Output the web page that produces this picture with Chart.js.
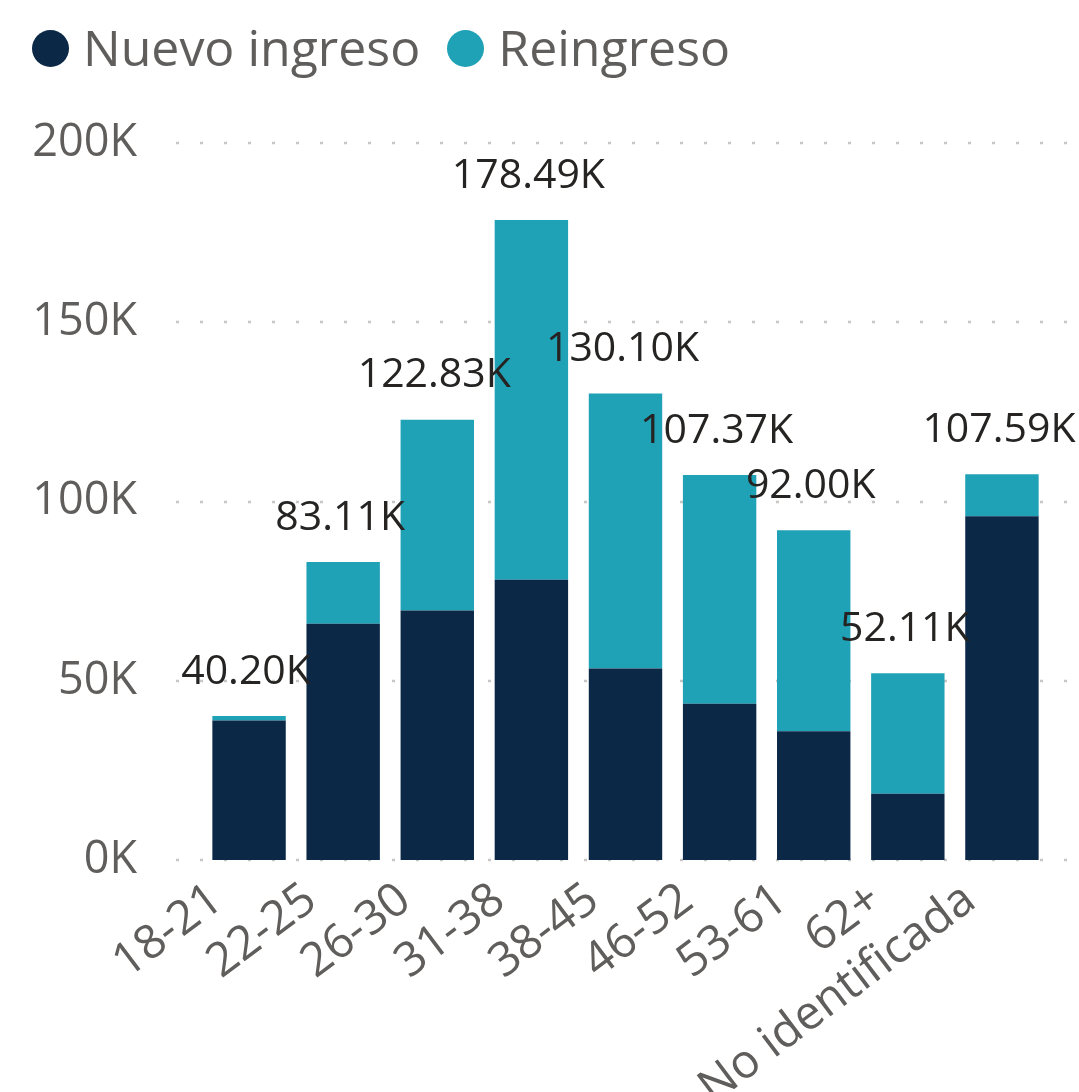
<!DOCTYPE html>
<html>
<head>
<meta charset="utf-8">
<script src="https://cdn.jsdelivr.net/npm/chart.js@4.4.1/dist/chart.umd.min.js"></script>
<style>
    html, body { margin: 0; padding: 0; background: #fff; }
    #wrap { position: relative; width: 1079px; height: 1092px; }
    #legend {
        position: absolute; left: 32px; top: 22px;
        display: flex; align-items: center;
        font-family: "Open Sans", sans-serif; font-size: 50px; line-height: 50px;
        color: #605e5c;
    }
    .item { display: flex; align-items: center; margin-right: 27px; }
    .dot { width: 37px; height: 37px; border-radius: 50%; margin-right: 14px; position: relative; top: 1px; }
</style>
</head>
<body>
<div id="wrap">
    <canvas id="chart" width="1079" height="1092"></canvas>
    <div id="legend"></div>
</div>
<script>
// Age groups
const categories = ['18-21', '22-25', '26-30', '31-38', '38-45', '46-52', '53-61', '62+', 'No identificada'];

// Values
const nuevoIngreso = [38900, 65900, 69600, 78200, 53400, 43600, 35900, 18500, 95900];
const reingreso = [1300, 17210, 53230, 100290, 76700, 63770, 56100, 33610, 11690];

// Y axis ticks
const yTicks = [0, 50000, 100000, 150000, 200000];

const colors = {
    nuevo: '#0b2847',
    reingreso: '#1fa1b6'
};

// Dotted gridlines that stick out a bit past the plot area, like the original
const dottedGrid = {
    id: 'dottedGrid',
    beforeDatasetsDraw(chart) {
        const ctx = chart.ctx;
        const y = chart.scales.y;
        ctx.save();
        ctx.strokeStyle = '#c8c6c4';
        ctx.lineWidth = 2.5;
        ctx.setLineDash([3, 21]);
        yTicks.forEach(v => {
            const py = Math.round(y.getPixelForValue(v));
            ctx.beginPath();
            ctx.moveTo(176, py);
            ctx.lineTo(1076, py);
            ctx.stroke();
        });
        ctx.restore();
    }
};

// Total labels above each stacked bar
const totalLabels = {
    id: 'totalLabels',
    afterDatasetsDraw(chart) {
        const ctx = chart.ctx;
        const meta = chart.getDatasetMeta(1);
        const y = chart.scales.y;
        ctx.save();
        ctx.font = '41px "Open Sans", sans-serif';
        ctx.fillStyle = '#252423';
        ctx.textAlign = 'center';
        ctx.textBaseline = 'middle';
        meta.data.forEach((bar, i) => {
            const total = nuevoIngreso[i] + reingreso[i];
            const txt = (total / 1000).toFixed(2) + 'K';
            ctx.fillText(txt, bar.x - 3, y.getPixelForValue(total) - 44);
        });
        ctx.restore();
    }
};

function buildLegend(chart) {
    const box = document.getElementById('legend');
    let html = '';
    chart.data.datasets.forEach(ds => {
        html += `<div class="item"><span class="dot" style="background:${ds.backgroundColor}"></span><span>${ds.label}</span></div>`;
    });
    box.innerHTML = html;
}

const chart = new Chart(document.getElementById('chart').getContext('2d'), {
    type: 'bar',
    data: {
        labels: categories,
        datasets: [
            {
                label: 'Nuevo ingreso',
                data: nuevoIngreso,
                backgroundColor: colors.nuevo,
                barPercentage: 0.78,
                categoryPercentage: 1
            },
            {
                label: 'Reingreso',
                data: reingreso,
                backgroundColor: colors.reingreso,
                barPercentage: 0.78,
                categoryPercentage: 1
            }
        ]
    },
    options: {
        responsive: false,
        animation: false,
        layout: {
            padding: { top: 143, right: 30, bottom: 0, left: 0 }
        },
        plugins: {
            legend: { display: false },
            tooltip: { enabled: false }
        },
        scales: {
            x: {
                stacked: true,
                grid: { display: false, drawTicks: false },
                border: { display: false },
                ticks: {
                    color: '#605e5c',
                    font: { family: 'Open Sans', size: 47 },
                    minRotation: 37,
                    maxRotation: 37,
                    autoSkip: false,
                    padding: 12,
                    labelOffset: -32
                },
                afterFit(scale) { scale.height = 232; }
            },
            y: {
                stacked: true,
                min: 0,
                max: 200000,
                grid: { display: false, drawTicks: false },
                border: { display: false },
                afterBuildTicks(scale) {
                    scale.ticks = yTicks.map(v => ({ value: v }));
                },
                ticks: {
                    color: '#605e5c',
                    font: { family: 'Open Sans', size: 45 },
                    padding: 65,
                    callback: v => (v / 1000) + 'K'
                },
                afterFit(scale) { scale.width = 202; }
            }
        }
    },
    plugins: [dottedGrid, totalLabels]
});

buildLegend(chart);
</script>
</body>
</html>
